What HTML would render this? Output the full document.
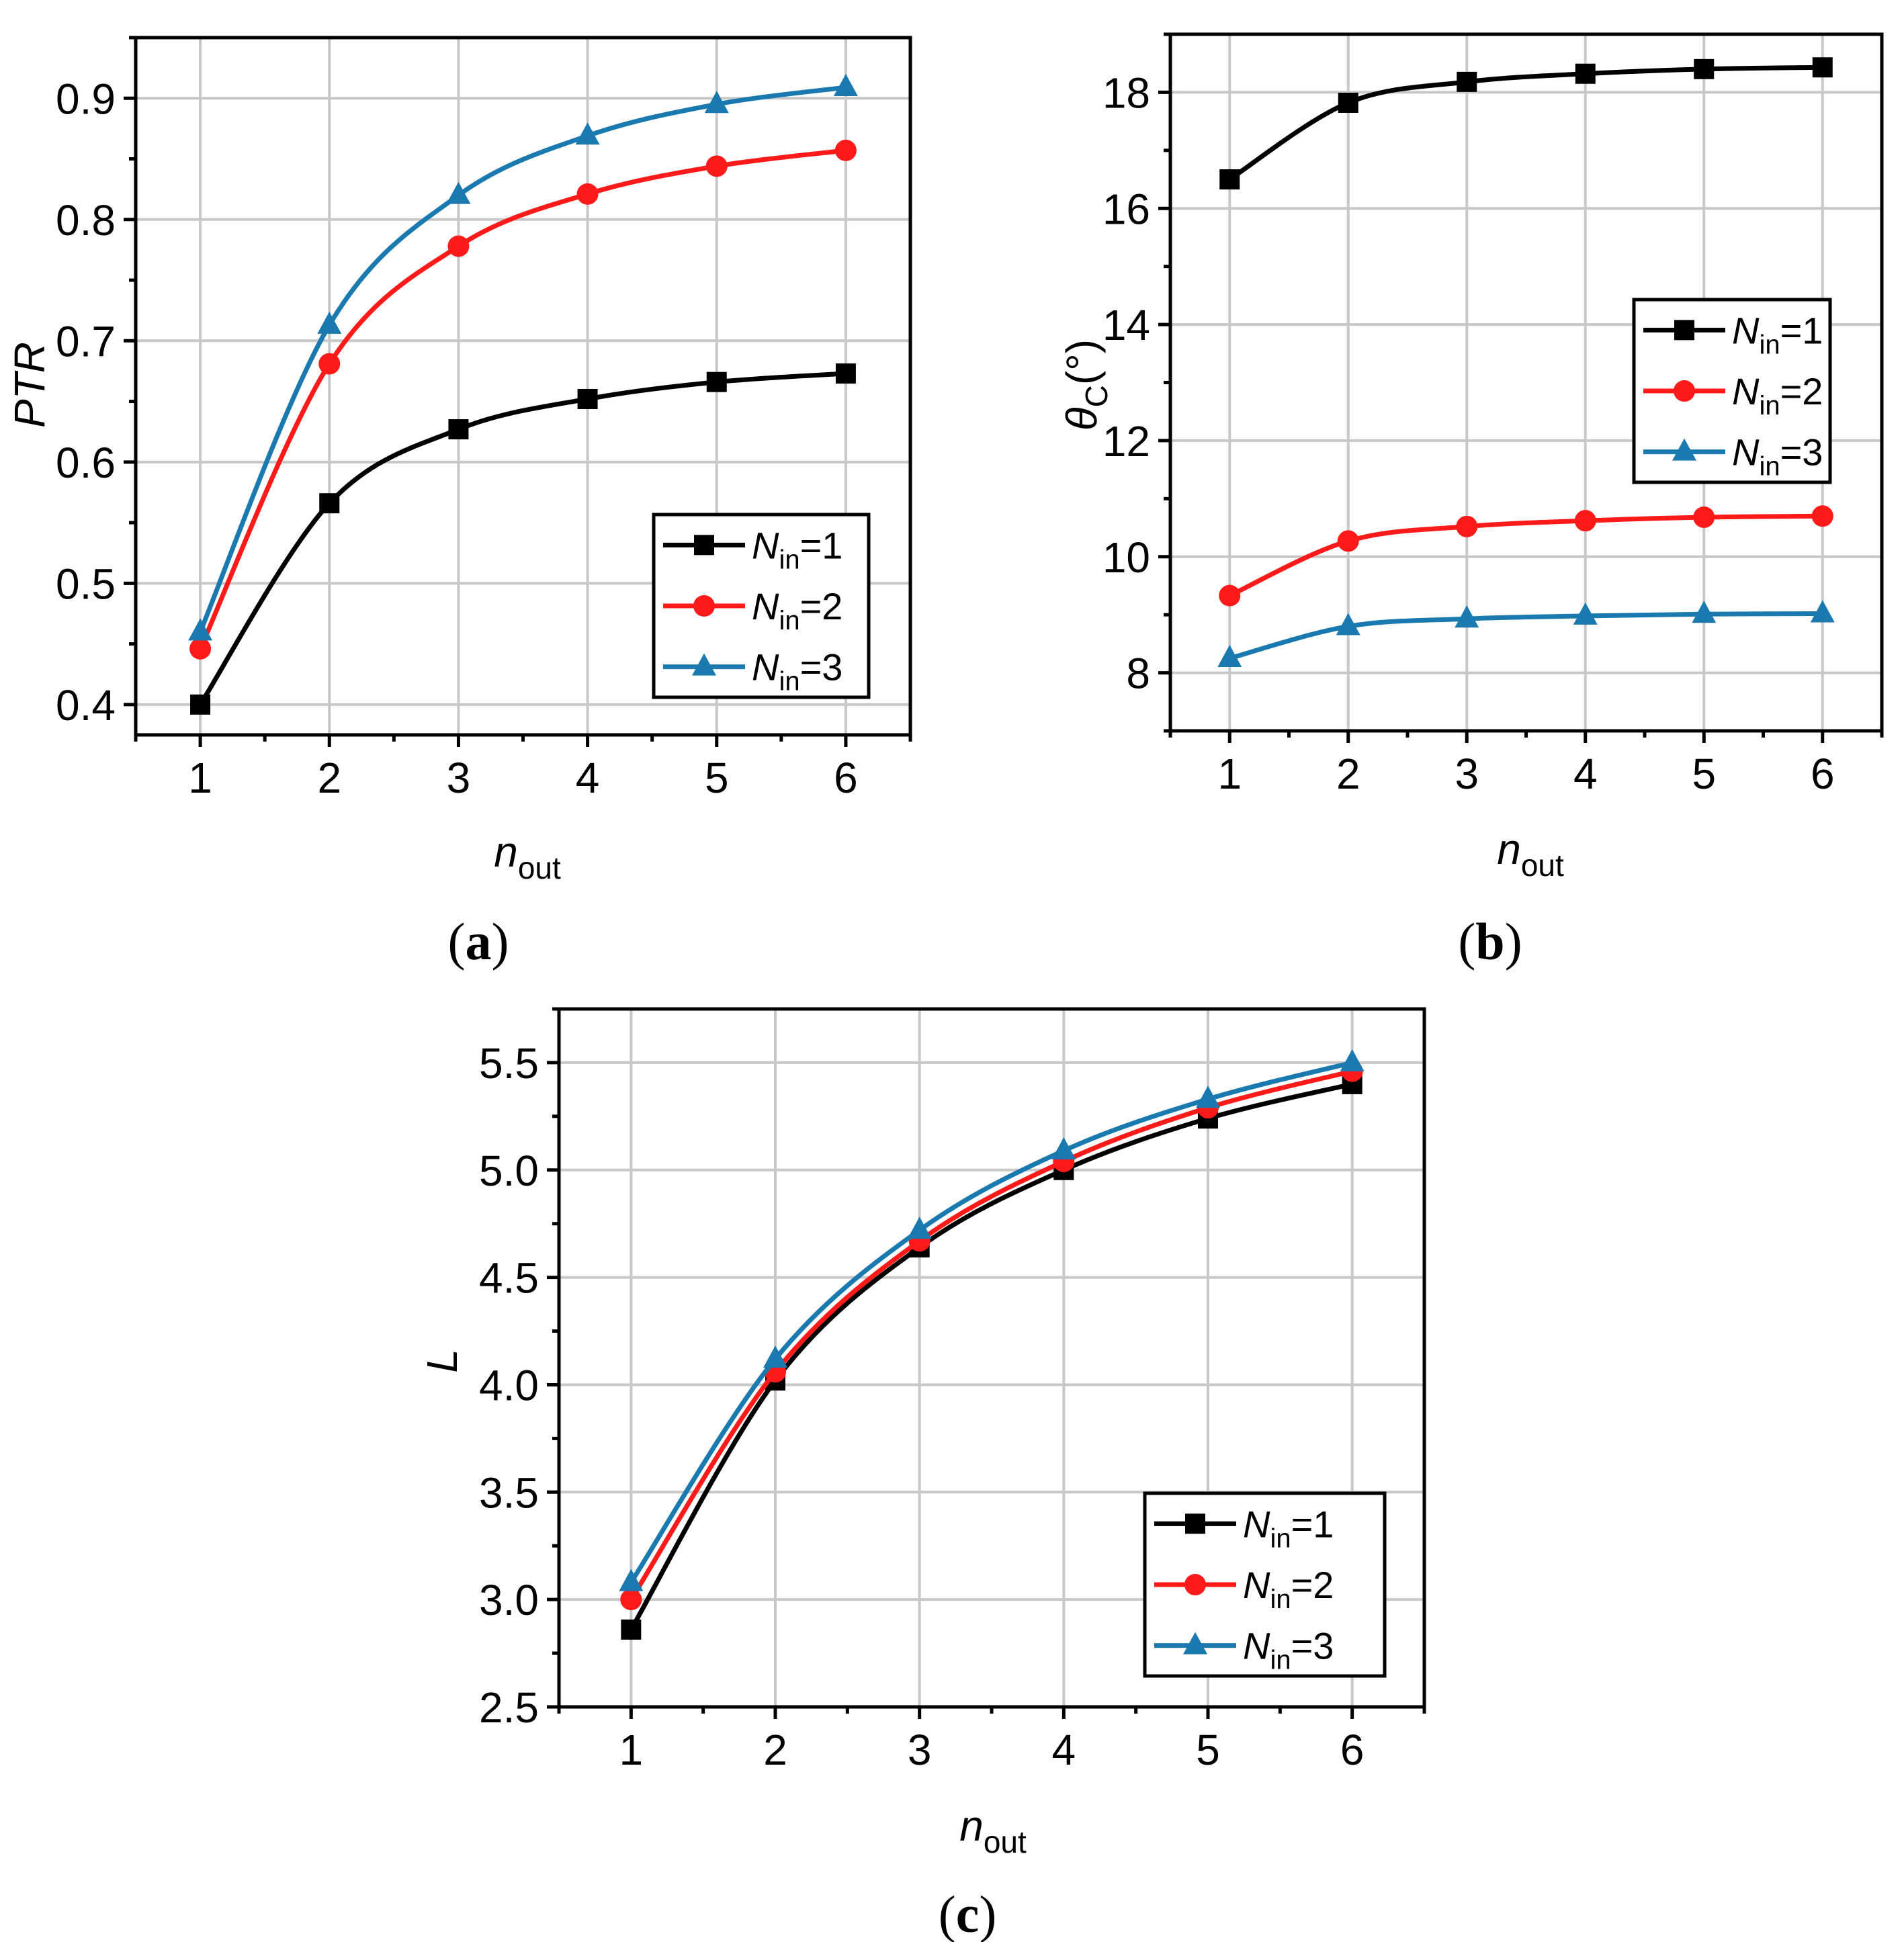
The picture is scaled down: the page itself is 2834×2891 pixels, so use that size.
<!DOCTYPE html>
<html><head><meta charset="utf-8">
<style>
html,body{margin:0;padding:0;background:#fff;}
svg{display:block;font-family:"Liberation Sans",Arial,sans-serif;}
</style></head>
<body>
<svg id="fig" width="2834" height="2891" viewBox="0 0 2834 2891" xmlns="http://www.w3.org/2000/svg">
<rect width="2834" height="2891" fill="#fff"/>
</svg>
<script>
const nOut = [1, 2, 3, 4, 5, 6];
const ptrN1 = [0.400, 0.566, 0.627, 0.652, 0.666, 0.673];
const ptrN2 = [0.446, 0.681, 0.778, 0.821, 0.844, 0.857];
const ptrN3 = [0.460, 0.713, 0.820, 0.869, 0.895, 0.909];
const thetaN1 = [16.50, 17.82, 18.18, 18.32, 18.40, 18.43];
const thetaN2 = [9.33, 10.27, 10.52, 10.62, 10.68, 10.70];
const thetaN3 = [8.25, 8.80, 8.93, 8.98, 9.01, 9.02];
const lenN1 = [2.86, 4.02, 4.64, 5.00, 5.24, 5.40];
const lenN2 = [3.00, 4.06, 4.67, 5.04, 5.29, 5.46];
const lenN3 = [3.08, 4.12, 4.72, 5.09, 5.33, 5.50];
const xTicks = [1, 2, 3, 4, 5, 6];
const ptrTicks = [0.4, 0.5, 0.6, 0.7, 0.8, 0.9];
const ptrTickLabels = ["0.4", "0.5", "0.6", "0.7", "0.8", "0.9"];
const thetaTicks = [8, 10, 12, 14, 16, 18];
const thetaTickLabels = ["8", "10", "12", "14", "16", "18"];
const lenTicks = [2.5, 3.0, 3.5, 4.0, 4.5, 5.0, 5.5];
const lenTickLabels = ["2.5", "3.0", "3.5", "4.0", "4.5", "5.0", "5.5"];
const legendLabels = ["1", "2", "3"];

const NS = "http://www.w3.org/2000/svg";
const svg = document.getElementById("fig");
const colors = ["#000000", "#ff1a1a", "#1a7ab0"];
const markers = ["square", "circle", "triangle"];

function mk(tag, attrs, parent) {
  const e = document.createElementNS(NS, tag);
  for (const k in attrs) e.setAttribute(k, attrs[k]);
  (parent || svg).appendChild(e);
  return e;
}

function smoothPath(pts) {
  let d = "M" + pts[0][0] + "," + pts[0][1];
  for (let i = 0; i < pts.length - 1; i++) {
    const p0 = pts[Math.max(0, i - 1)], p1 = pts[i], p2 = pts[i + 1], p3 = pts[Math.min(pts.length - 1, i + 2)];
    const c1x = p1[0] + (p2[0] - p0[0]) / 6, c1y = p1[1] + (p2[1] - p0[1]) / 6;
    const c2x = p2[0] - (p3[0] - p1[0]) / 6, c2y = p2[1] - (p3[1] - p1[1]) / 6;
    d += " C" + c1x + "," + c1y + " " + c2x + "," + c2y + " " + p2[0] + "," + p2[1];
  }
  return d;
}

function drawMarker(g, type, x, y, color) {
  let m;
  if (type === "square") m = mk("rect", {x: x - 15, y: y - 15, width: 30, height: 30, fill: color}, g);
  else if (type === "circle") m = mk("circle", {cx: x, cy: y, r: 16, fill: color}, g);
  else m = mk("polygon", {points: (x) + "," + (y - 20) + " " + (x - 18) + "," + (y + 13) + " " + (x + 18) + "," + (y + 13), fill: color}, g);
  return m;
}

function panel(cfg) {
  const g = mk("g", {});
  
  
  const L = cfg.left, R = cfg.right, T = cfg.top, B = cfg.bottom;
  const sx = v => L + (v - cfg.xmin) / (cfg.xmax - cfg.xmin) * (R - L);
  const sy = v => B - (v - cfg.ymin) / (cfg.ymax - cfg.ymin) * (B - T);
  const grid = mk("g", {}, g);
  
  
  xTicks.forEach(v => mk("line", {x1: sx(v), x2: sx(v), y1: T, y2: B, stroke: "#c8c8c8", "stroke-width": 4}, grid));
  cfg.yTicks.forEach(v => mk("line", {x1: L, x2: R, y1: sy(v), y2: sy(v), stroke: "#c8c8c8", "stroke-width": 4}, grid));
  const frame = mk("rect", {x: L, y: T, width: R - L, height: B - T, fill: "none", stroke: "#000", "stroke-width": 5}, g);
  
  
  const xa = mk("g", {}, g);
  
  
  xTicks.forEach(v => {
    mk("line", {x1: sx(v), x2: sx(v), y1: B, y2: B + 18, stroke: "#000", "stroke-width": 5}, xa);
    const t = mk("text", {x: sx(v), y: B + 86, "font-size": 64, "text-anchor": "middle", fill: "#000"}, xa);
    t.textContent = String(v);
  });
  for (let v = cfg.xmin; v <= cfg.xmax + 1e-9; v += 1) {
    mk("line", {x1: sx(v), x2: sx(v), y1: B, y2: B + 10, stroke: "#000", "stroke-width": 5}, xa);
  }
  const ya = mk("g", {}, g);
  
  
  cfg.yTicks.forEach((v, i) => {
    mk("line", {x1: L - 18, x2: L, y1: sy(v), y2: sy(v), stroke: "#000", "stroke-width": 5}, ya);
    const t = mk("text", {x: L - 30, y: sy(v) + 23, "font-size": 64, "text-anchor": "end", fill: "#000"}, ya);
    t.textContent = cfg.yLabels[i];
  });
  const step = cfg.yTicks[1] - cfg.yTicks[0];
  for (let v = cfg.yTicks[0] - step / 2; v <= cfg.ymax; v += step) {
    if (v >= cfg.ymin - 1e-9) mk("line", {x1: L - 10, x2: L, y1: sy(v), y2: sy(v), stroke: "#000", "stroke-width": 5}, ya);
  }
  cfg.series.forEach((s, k) => {
    const sg = mk("g", {}, g);
    
    
    const pts = nOut.map((x, i) => [sx(x), sy(s[i])]);
    mk("path", {d: smoothPath(pts), fill: "none", stroke: colors[k], "stroke-width": 7}, sg);
    pts.forEach(p => drawMarker(sg, markers[k], p[0], p[1], colors[k]));
  });
  const lg = mk("g", {}, g);
  
  
  const lb = cfg.legend;
  mk("rect", {x: lb.x, y: lb.y, width: lb.w, height: lb.h, fill: "#fff", stroke: "#000", "stroke-width": 5}, lg);
  const rowH = lb.h / 3;
  legendLabels.forEach((lab, k) => {
    const e = mk("g", {}, lg);
    
    
    const cy = lb.y + rowH * (k + 0.5);
    mk("line", {x1: lb.x + 14, x2: lb.x + 136, y1: cy, y2: cy, stroke: colors[k], "stroke-width": 7}, e);
    drawMarker(e, markers[k], lb.x + 75, cy, colors[k]);
    const t = mk("text", {x: lb.x + 146, y: cy + 20, "font-size": 56, fill: "#000"}, e);
    const n = mk("tspan", {"font-style": "italic"}, t); n.textContent = "N";
    const sub = mk("tspan", {"font-size": 40, dy: 15}, t); sub.textContent = "in";
    const eq = mk("tspan", {dy: -15}, t); eq.textContent = "=" + lab;
  });
  const xt = mk("text", {x: cfg.xTitle[0], y: cfg.xTitle[1], "font-size": 64, fill: "#000", "text-anchor": "middle"}, g);
  
  
  const xn = mk("tspan", {"font-style": "italic"}, xt); xn.textContent = "n";
  const xs = mk("tspan", {"font-size": 46, dy: 18}, xt); xs.textContent = "out";
  const yt = mk("text", {x: 0, y: 0, "font-size": 64, fill: "#000", "text-anchor": "middle",
    transform: "translate(" + cfg.yTitle[0] + "," + cfg.yTitle[1] + ") rotate(-90)"}, g);
  
  
  cfg.yTitleParts(yt);
  const cap = mk("text", {x: cfg.cap[0], y: cfg.cap[1], "font-size": 78, "text-anchor": "middle", fill: "#000",
    "font-family": "'Liberation Serif', 'Times New Roman', serif"}, g);
  
  
  const c1 = mk("tspan", {}, cap); c1.textContent = "(";
  const c2 = mk("tspan", {"font-weight": "bold"}, cap); c2.textContent = cfg.capLetter;
  const c3 = mk("tspan", {}, cap); c3.textContent = ")";
}

panel({name: "panel-a-ptr", left: 202, right: 1355, top: 56, bottom: 1094,
  xmin: 0.5, xmax: 6.5, ymin: 0.375, ymax: 0.95,
  yTicks: ptrTicks, yLabels: ptrTickLabels, series: [ptrN1, ptrN2, ptrN3],
  legend: {x: 973, y: 766, w: 320, h: 272},
  xTitle: [785, 1290], yTitle: [66, 573], cap: [712, 1428], capLetter: "a",
  yTitleParts: t => { const s = mk("tspan", {"font-style": "italic"}, t); s.textContent = "PTR"; }});

panel({name: "panel-b-theta", left: 1742, right: 2801, top: 51, bottom: 1088,
  xmin: 0.5, xmax: 6.5, ymin: 7, ymax: 19,
  yTicks: thetaTicks, yLabels: thetaTickLabels, series: [thetaN1, thetaN2, thetaN3],
  legend: {x: 2432, y: 446, w: 292, h: 272},
  xTitle: [2278, 1286], yTitle: [1632, 573], cap: [2218, 1428], capLetter: "b",
  yTitleParts: t => {
    const a = mk("tspan", {"font-style": "italic"}, t); a.textContent = "θ";
    const b = mk("tspan", {"font-size": 46, dy: 16}, t); b.textContent = "C";
    const c = mk("tspan", {dy: -16}, t); c.textContent = "(°)";
  }});

panel({name: "panel-c-length", left: 832, right: 2120, top: 1502, bottom: 2541,
  xmin: 0.5, xmax: 6.5, ymin: 2.5, ymax: 5.75,
  yTicks: lenTicks, yLabels: lenTickLabels, series: [lenN1, lenN2, lenN3],
  legend: {x: 1704, y: 2223, w: 357, h: 272},
  xTitle: [1478, 2740], yTitle: [680, 2026], cap: [1440, 2876], capLetter: "c",
  yTitleParts: t => { const s = mk("tspan", {"font-style": "italic"}, t); s.textContent = "L"; }});
</script>
</body></html>
